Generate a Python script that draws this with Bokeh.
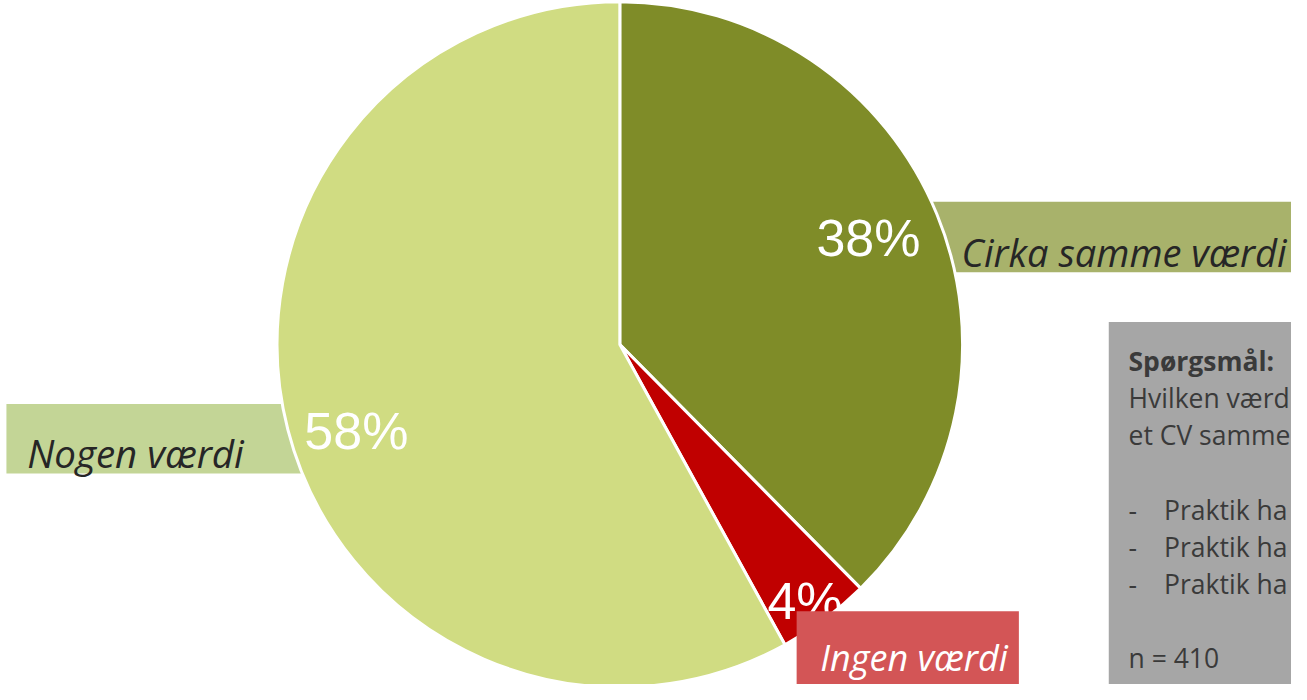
import math
from bokeh.plotting import figure
from bokeh.models import Range1d, ColumnDataSource
from bokeh.core.properties import value
from bokeh.embed import file_html
from bokeh.resources import INLINE

# ---- data ----
categories = ["Cirka samme værdi", "Ingen værdi", "Nogen værdi"]
shares = [37.6, 4.4, 58.0]
pct_labels = ["38%", "4%", "58%"]
slice_colors = ["#7F8C28", "#C00000", "#D0DC82"]

question_lines = ["Hvilken værd", "et CV samme"]
bullet_lines = ["Praktik ha", "Praktik ha", "Praktik ha"]
n_text = "n = 410"

# ---- layout (reference pixel coords, y measured downward) ----
W, H = 1291, 684
def Y(y):
    return 700 - y

cx, cy, R = 627, Y(352), 347

p = figure(width=W, height=H, x_range=Range1d(0, 1307), y_range=Range1d(0, 700),
           output_backend="svg", toolbar_location=None, min_border=0)
p.axis.visible = False
p.grid.visible = False
p.outline_line_color = None
p.background_fill_color = "white"

# label boxes lying behind the pie
p.quad(left=[900], right=[1320], bottom=[Y(278)], top=[Y(206)], fill_color="#A8B26B", line_color=None)
p.quad(left=[6], right=[360], bottom=[Y(484)], top=[Y(413)], fill_color="#C3D596", line_color=None)

# pie
total = sum(shares)
starts, ends, mids = [], [], []
cum = 0.0
for s in shares:
    a0 = 90 - (cum + s) / total * 360
    a1 = 90 - cum / total * 360
    starts.append(math.radians(a0))
    ends.append(math.radians(a1))
    mids.append((a0 + a1) / 2)
    cum += s
src = ColumnDataSource(dict(start=starts, end=ends, color=slice_colors, cat=categories))
p.wedge(x=cx, y=cy, radius=R, start_angle="start", end_angle="end", fill_color="color",
        line_color="white", line_width=3, source=src)

# percent labels placed relative to each slice's mid angle
rad_frac = [0.79, 0.93, 0.81]
ang_shift = [1.0, -1.2, 4.0]
lx = [cx + R * f * math.cos(math.radians(m + d)) for f, m, d in zip(rad_frac, mids, ang_shift)]
ly = [cy + R * f * math.sin(math.radians(m + d)) for f, m, d in zip(rad_frac, mids, ang_shift)]
p.text(x=lx, y=ly, text=pct_labels, text_color="white", text_font=value("Liberation Sans"),
       text_font_size="52px", text_align="center", text_baseline="middle")

# outer labels
lab_font = dict(text_font=value("Open Sans"), text_font_style="italic",
                text_baseline="alphabetic")
p.text(x=[973], y=[Y(257)], text=[categories[0]], text_color="#262626", text_font_size="38px", **lab_font)
p.text(x=[27], y=[Y(463)], text=[categories[2]], text_color="#262626", text_font_size="38.5px", **lab_font)

p.quad(left=[806], right=[1031], bottom=[-5], top=[Y(625)], fill_color="#D35556", line_color=None)
p.text(x=[830], y=[Y(672)], text=[categories[1]], text_color="white", text_font_size="36px", **lab_font)

# question box
p.quad(left=[1122], right=[1320], bottom=[-5], top=[Y(329)], fill_color="#A6A6A6", line_color=None)
tc = "#3A3A3A"
step = 38
base = 369
qf = dict(text_color=tc, text_font=value("Open Sans"), text_font_size="26.5px", text_baseline="alphabetic")
p.text(x=[1142], y=[Y(base)], text=["Spørgsmål:"], text_font_style="bold", **qf)
p.text(x=[1142] * len(question_lines), y=[Y(base + step * (i + 1)) for i in range(len(question_lines))],
       text=question_lines, **qf)
by = [Y(base + step * (i + 4)) for i in range(len(bullet_lines))]
p.text(x=[1142] * len(bullet_lines), y=by, text=["-"] * len(bullet_lines), **qf)
p.text(x=[1178] * len(bullet_lines), y=by, text=bullet_lines, **qf)
p.text(x=[1142], y=[Y(base + step * 8)], text=[n_text], **qf)

open("out.html", "w").write(file_html(p, INLINE))
